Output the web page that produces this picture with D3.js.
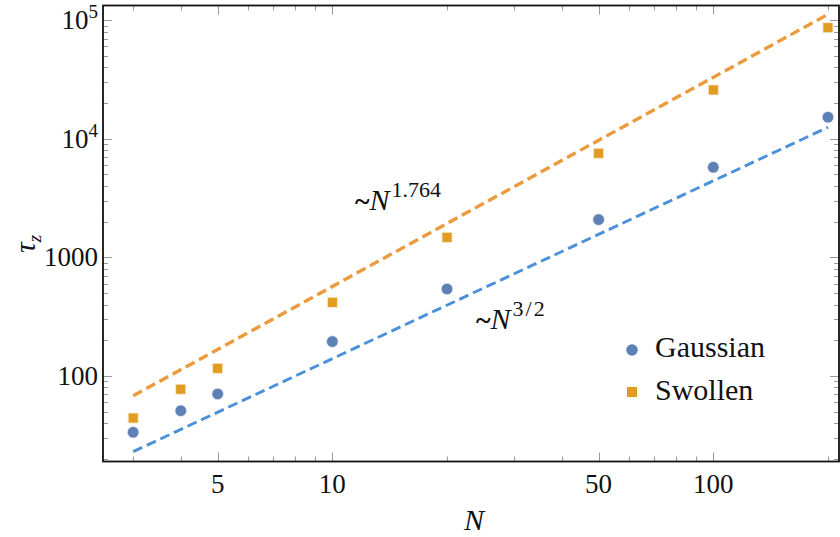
<!DOCTYPE html>
<html><head><meta charset="utf-8">
<script src="https://cdn.jsdelivr.net/npm/d3@7"></script>
<style>body{margin:0;background:#fff} svg{display:block}</style>
</head><body><svg id="c" width="840" height="537"></svg>
<script>
const N = [3, 4, 5, 10, 20, 50, 100, 200];
const gaussian = [33.5, 50.9, 70.5, 195, 541, 2080, 5750, 15200];
const swollen = [44.2, 77.3, 116, 418, 1476, 7550, 25800, 86400];
const fitN = [3, 200];
const fitSwollen = [68, 112000];
const fitGaussian = [23, 12500];
const xTickLabels = [5, 10, 50, 100];
const yTickLabels = [100, 1000, 1e4, 1e5];
const seriesNames = ["Gaussian", "Swollen"];

const FONT = '"Liberation Serif"';
const svg = d3.select('#c');
const txt = (sel) => sel.append("text").style("font-family", FONT).attr("fill", "#111");
const L = 103, R = 839, T = 5.5, B = 461.5;
const x = d3.scaleLog().domain([2.5, 213.8]).range([L, R]);
const y = d3.scaleLog().domain([19, 133000]).range([B, T]);

const colG = "#5E81B5", colS = "#E19C24", lineS = "#EC9A3E", lineG = "#4A90DB";

svg.append("defs").append("clipPath").attr("id","pc").append("rect")
  .attr("x", L).attr("y", T).attr("width", R-L).attr("height", B-T);

// ticks
const tg = svg.append("g").attr("stroke", "#9a9a9a").attr("stroke-width", 1);
x.ticks().forEach(v => {
  const len = xTickLabels.includes(v) ? 9 : 5;
  const px = Math.round(x(v)) + 0.5;
  tg.append("line").attr("x1", px).attr("x2", px).attr("y1", B).attr("y2", B - len);
  tg.append("line").attr("x1", px).attr("x2", px).attr("y1", T).attr("y2", T + len);
});
y.ticks().forEach(v => {
  const len = yTickLabels.includes(v) ? 9 : 5;
  const py = Math.round(y(v)) + 0.5;
  tg.append("line").attr("y1", py).attr("y2", py).attr("x1", L).attr("x2", L + len);
  tg.append("line").attr("y1", py).attr("y2", py).attr("x1", R).attr("x2", R - len);
});

// frame
svg.append("rect").attr("x", L).attr("y", T).attr("width", R-L).attr("height", B-T)
  .attr("fill", "none").attr("stroke", "#111").attr("stroke-width", 1.8);

// tick labels
xTickLabels.forEach(v => {
  txt(svg).attr("x", x(v)).attr("y", 493).attr("text-anchor", "middle")
    .attr("font-size", 27).text(v);
});
yTickLabels.forEach(v => {
  const t = txt(svg).attr("x", 98).attr("y", y(v) + 9).attr("text-anchor", "end").attr("font-size", 27);
  if (v >= 1e4) {
    t.append("tspan").text("10");
    t.append("tspan").attr("dy", -11).attr("font-size", 19).text(Math.round(Math.log10(v)));
  } else {
    t.text(v);
  }
});

// axis titles
txt(svg).attr("x", 474).attr("y", 530).attr("text-anchor", "middle")
  .attr("font-size", 30).attr("font-style", "italic").text("N");
const yl = txt(svg).attr("transform", "translate(35,244) rotate(-90)")
  .attr("text-anchor", "middle").attr("font-size", 30);
yl.append("tspan").attr("font-style", "italic").text("τ");
yl.append("tspan").attr("dy", 6).attr("font-size", 19).attr("font-style", "italic").text("z");

// fit lines
const line = d3.line().x((d) => x(d[0])).y((d) => y(d[1]));
const plot = svg.append("g").attr("clip-path", "url(#pc)");
plot.append("path").datum(fitN.map((n, i) => [n, fitSwollen[i]])).attr("d", line)
  .attr("fill", "none").attr("stroke", lineS).attr("stroke-width", 3.4).attr("stroke-dasharray", "10,5");
plot.append("path").datum(fitN.map((n, i) => [n, fitGaussian[i]])).attr("d", line)
  .attr("fill", "none").attr("stroke", lineG).attr("stroke-width", 2.9).attr("stroke-dasharray", "10,5");

// points
plot.selectAll("circle.g").data(N.map((n, i) => [n, gaussian[i]])).join("circle")
  .attr("cx", d => x(d[0])).attr("cy", d => y(d[1])).attr("r", 5.8)
  .attr("fill", colG).attr("stroke", "#e8e4f0").attr("stroke-width", 0.8);
const sq = 10;
plot.selectAll("rect.s").data(N.map((n, i) => [n, swollen[i]])).join("rect")
  .attr("x", d => x(d[0]) - sq/2).attr("y", d => y(d[1]) - sq/2).attr("width", sq).attr("height", sq)
  .attr("fill", colS).attr("stroke", "#f6ead6").attr("stroke-width", 0.8);

// annotations
const a1 = txt(svg).attr("x", 355).attr("y", 210).attr("font-size", 30);
a1.append("tspan").attr("font-size", 28).attr("font-weight", "bold").text("~");
a1.append("tspan").attr("font-style", "italic").text("N");
a1.append("tspan").attr("dx", 2).attr("dy", -13).attr("font-size", 22).text("1.764");
const a2 = txt(svg).attr("x", 476).attr("y", 329).attr("font-size", 30);
a2.append("tspan").attr("font-size", 28).attr("font-weight", "bold").text("~");
a2.append("tspan").attr("font-style", "italic").text("N");
a2.append("tspan").attr("dx", 2).attr("dy", -13).attr("font-size", 22).attr("letter-spacing", 2).text("3/2");

// legend
svg.append("circle").attr("cx", 632).attr("cy", 350).attr("r", 5.8).attr("fill", colG);
txt(svg).attr("x", 655).attr("y", 357).attr("font-size", 30).text(seriesNames[0]);
svg.append("rect").attr("x", 632 - 5).attr("y", 392 - 5).attr("width", 10).attr("height", 10).attr("fill", colS);
txt(svg).attr("x", 655).attr("y", 400).attr("font-size", 30).text(seriesNames[1]);
</script></body></html>
